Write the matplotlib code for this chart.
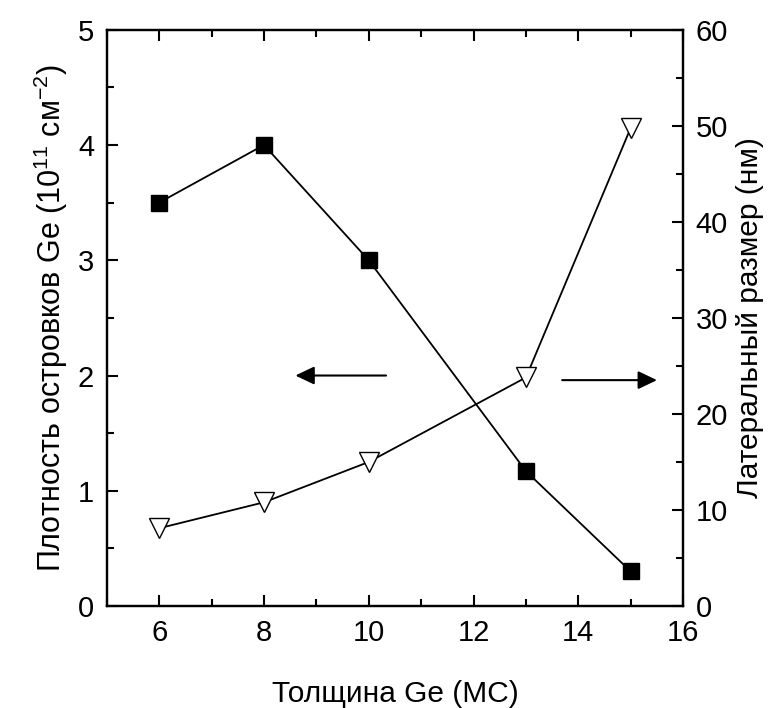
import matplotlib
matplotlib.use('Agg')
import matplotlib.pyplot as plt

plt.rcParams['font.family'] = ['Liberation Sans', 'DejaVu Sans']
plt.rcParams['mathtext.default'] = 'regular'
plt.rcParams['font.size'] = 20

# thickness of Ge layer (monolayers)
thickness = [6, 8, 10, 13, 15]
# island density, 10^11 cm^-2 (left axis)
density = [3.5, 4.0, 3.0, 1.17, 0.30]
# lateral size, nm (right axis)
lateral_size = [8.1, 10.8, 15.0, 23.8, 49.8]

x_ticks = [6, 8, 10, 12, 14, 16]
left_ticks = [0, 1, 2, 3, 4, 5]
right_ticks = [0, 10, 20, 30, 40, 50, 60]

fig = plt.figure(figsize=(7.79, 7.08), dpi=100)
ax = fig.add_axes([0.137, 0.144, 0.740, 0.814])
ax2 = ax.twinx()

ax.plot(thickness, density, color='black', linewidth=1.3, marker='s',
        markersize=11.5, markerfacecolor='black', markeredgecolor='black')
ax2.plot(thickness, lateral_size, color='black', linewidth=1.3, marker='v',
         markersize=14, markerfacecolor='white', markeredgecolor='black',
         markeredgewidth=1.0)

ax.set_xlim(5, 16)
ax.set_ylim(0, 5)
ax2.set_ylim(0, 60)
ax.set_xticks(x_ticks)
ax.set_yticks(left_ticks)
ax2.set_yticks(right_ticks)
ax.set_xticks([5, 7, 9, 11, 13, 15], minor=True)
ax.set_yticks([0.5, 1.5, 2.5, 3.5, 4.5], minor=True)
ax2.set_yticks([5, 15, 25, 35, 45, 55], minor=True)

for a in (ax, ax2):
    a.tick_params(which='major', direction='in', length=8, width=1.5,
                  pad=9, labelsize=21)
    a.tick_params(which='minor', direction='in', length=5, width=1.5)
    for s in a.spines.values():
        s.set_linewidth(1.6)
ax.tick_params(axis='x', which='both', top=True)

ax.set_xlabel('Толщина Ge (МС)', fontsize=21.5, labelpad=24)
ax.set_ylabel('Плотность островков Ge (10$^{11}$ см$^{-2}$)',
              fontsize=22, labelpad=6)
ax2.set_ylabel('Латеральный размер (нм)', fontsize=21.5, labelpad=6)

# arrows showing which axis belongs to which curve
arrow_style = dict(arrowstyle='-|>,head_length=1.15,head_width=0.55',
                   mutation_scale=10, color='black', lw=1.5,
                   shrinkA=0, shrinkB=0)
ax.annotate('', xy=(8.6, 2.0), xytext=(10.33, 2.0), arrowprops=arrow_style)
ax.annotate('', xy=(15.5, 1.96), xytext=(13.69, 1.96), arrowprops=arrow_style)

fig.savefig('out.png', dpi=100)
